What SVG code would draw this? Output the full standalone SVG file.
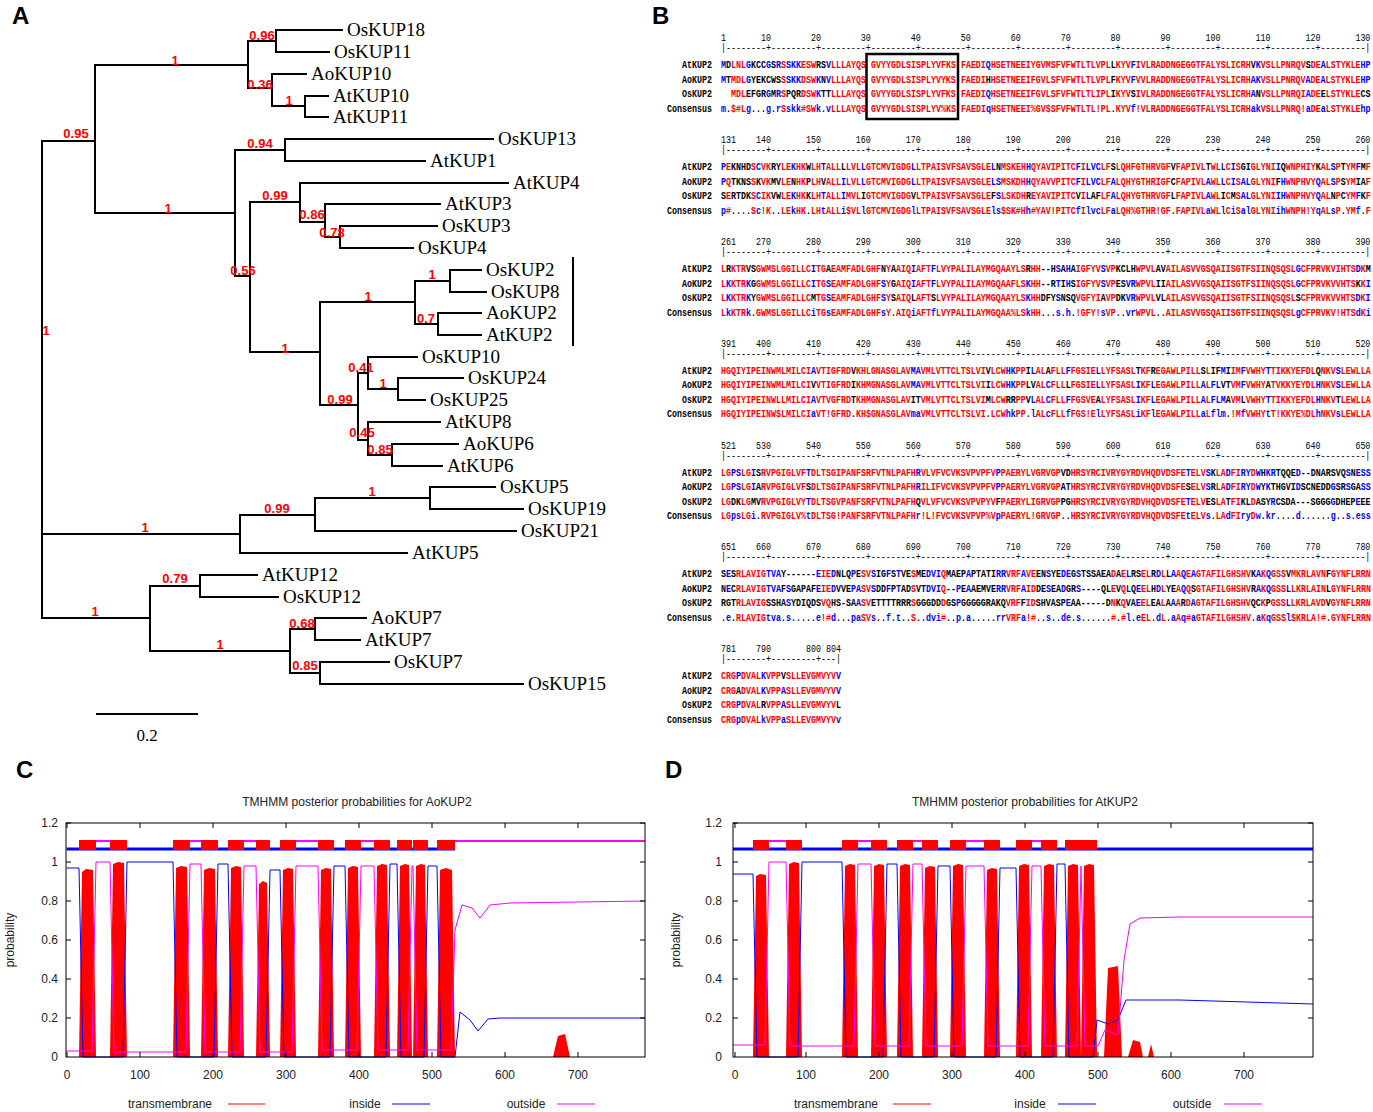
<svg xmlns="http://www.w3.org/2000/svg" width="1373" height="1112" viewBox="0 0 1373 1112">
<style>
.br{stroke:#000;stroke-width:2;fill:none;stroke-linecap:square}
.lf{font-family:"Liberation Serif",serif;font-size:19px;fill:#000}
.sp{font-family:"Liberation Sans",Arial,sans-serif;font-size:13px;font-weight:bold;fill:#f00;text-anchor:middle}
.pl{font-family:"Liberation Sans",Arial,sans-serif;font-size:24px;font-weight:bold;fill:#000}
.sq{font-family:"Liberation Mono",monospace;font-size:11.5px;font-weight:bold;fill:#000;white-space:pre}
.nm{font-weight:normal}
.lb{text-anchor:end}
.r{fill:#f00}
.b{fill:#00f}
.ax{font-family:"Liberation Sans",Arial,sans-serif;font-size:12px;fill:#222}
.axe{text-anchor:end}
.axm{text-anchor:middle}
.fr{fill:none;stroke:#000;stroke-width:1}
.tk{stroke:#000;stroke-width:1}
.tm{fill:#f00}
.inl{fill:none;stroke:#00f;stroke-width:1}
.otl{fill:none;stroke:#f0f;stroke-width:1}
.inb{stroke:#00f;stroke-width:3}
.otb{stroke:#f0f;stroke-width:2}
</style>
<rect width="1373" height="1112" fill="#fff"/>
<text class="pl" x="12" y="24">A</text>
<text class="pl" x="652" y="24">B</text>
<text class="pl" x="16" y="778">C</text>
<text class="pl" x="665" y="778">D</text>

<!-- Panel A: tree -->
<g id="tree-branches" class="br">
<path d="M42 141V618M42 141H95M42 534H240M42 618H150
M95 65V213M95 65H248M95 213H235
M248 41V88M248 41H276M248 88H272
M276 30V52M276 30H342M276 52H329
M272 74V106M272 74H306M272 106H305
M305 96V117M305 96H328M305 117H328
M235 150V276M235 150H285M235 276H250
M285 139V161M285 139H493M285 161H425
M250 202V352M250 202H300M250 352H320
M300 183V222M300 183H508M300 222H325
M325 204V237M325 204H440M325 237H340
M340 226V248M340 226H437M340 248H413
M320 302V405M320 302H415M320 405H358
M415 281V324M415 281H450M415 324H438
M450 270V292M450 270H481M450 292H486
M438 313V335M438 313H481M438 335H481
M358 373V440M358 373H368M358 440H368
M368 357V389M368 357H417M368 389H398
M398 378V400M398 378H463M398 400H425
M368 422V455M368 422H440M368 455H392
M392 444V466M392 444H458M392 466H442
M240 515V553M240 515H315M240 553H407
M315 498V531M315 498H430M315 531H516
M430 487V509M430 487H495M430 509H523
M150 586V651M150 586H200M150 651H290
M200 575V597M200 575H257M200 597H278
M290 629V673M290 629H315M290 673H320
M315 618V640M315 618H366M315 640H360
M320 662V684M320 662H389M320 684H523
M573 258V345
M97 714H197"/>
</g>
<g id="tree-leaves">
<g id="leaf-OsKUP18"><text class="lf" x="347" y="36">OsKUP18</text></g>
<g id="leaf-OsKUP11"><text class="lf" x="334" y="58">OsKUP11</text></g>
<g id="leaf-AoKUP10"><text class="lf" x="311" y="80">AoKUP10</text></g>
<g id="leaf-AtKUP10"><text class="lf" x="333" y="102">AtKUP10</text></g>
<g id="leaf-AtKUP11"><text class="lf" x="333" y="123">AtKUP11</text></g>
<g id="leaf-OsKUP13"><text class="lf" x="498" y="145">OsKUP13</text></g>
<g id="leaf-AtKUP1"><text class="lf" x="430" y="167">AtKUP1</text></g>
<g id="leaf-AtKUP4"><text class="lf" x="513" y="189">AtKUP4</text></g>
<g id="leaf-AtKUP3"><text class="lf" x="445" y="210">AtKUP3</text></g>
<g id="leaf-OsKUP3"><text class="lf" x="442" y="232">OsKUP3</text></g>
<g id="leaf-OsKUP4"><text class="lf" x="418" y="254">OsKUP4</text></g>
<g id="leaf-OsKUP2"><text class="lf" x="486" y="276">OsKUP2</text></g>
<g id="leaf-OsKUP8"><text class="lf" x="491" y="298">OsKUP8</text></g>
<g id="leaf-AoKUP2"><text class="lf" x="486" y="319">AoKUP2</text></g>
<g id="leaf-AtKUP2"><text class="lf" x="486" y="341">AtKUP2</text></g>
<g id="leaf-OsKUP10"><text class="lf" x="422" y="363">OsKUP10</text></g>
<g id="leaf-OsKUP24"><text class="lf" x="468" y="384">OsKUP24</text></g>
<g id="leaf-OsKUP25"><text class="lf" x="430" y="406">OsKUP25</text></g>
<g id="leaf-AtKUP8"><text class="lf" x="445" y="428">AtKUP8</text></g>
<g id="leaf-AoKUP6"><text class="lf" x="463" y="450">AoKUP6</text></g>
<g id="leaf-AtKUP6"><text class="lf" x="447" y="472">AtKUP6</text></g>
<g id="leaf-OsKUP5"><text class="lf" x="500" y="493">OsKUP5</text></g>
<g id="leaf-OsKUP19"><text class="lf" x="528" y="515">OsKUP19</text></g>
<g id="leaf-OsKUP21"><text class="lf" x="521" y="537">OsKUP21</text></g>
<g id="leaf-AtKUP5"><text class="lf" x="412" y="559">AtKUP5</text></g>
<g id="leaf-AtKUP12"><text class="lf" x="262" y="581">AtKUP12</text></g>
<g id="leaf-OsKUP12"><text class="lf" x="283" y="603">OsKUP12</text></g>
<g id="leaf-AoKUP7"><text class="lf" x="371" y="624">AoKUP7</text></g>
<g id="leaf-AtKUP7"><text class="lf" x="365" y="646">AtKUP7</text></g>
<g id="leaf-OsKUP7"><text class="lf" x="394" y="668">OsKUP7</text></g>
<g id="leaf-OsKUP15"><text class="lf" x="528" y="690">OsKUP15</text></g>
<text class="lf" x="147" y="741" text-anchor="middle" style="font-size:17px">0.2</text>
</g>
<g id="tree-support">
<text class="sp" x="262" y="39.5">0.96</text>
<text class="sp" x="175" y="64.5">1</text>
<text class="sp" x="260" y="88.5">0.36</text>
<text class="sp" x="289" y="104.5">1</text>
<text class="sp" x="76" y="137.5">0.95</text>
<text class="sp" x="260" y="147.5">0.94</text>
<text class="sp" x="275" y="199.5">0.99</text>
<text class="sp" x="168" y="212.5">1</text>
<text class="sp" x="312" y="218.5">0.86</text>
<text class="sp" x="332" y="236.5">0.78</text>
<text class="sp" x="243" y="274.5">0.56</text>
<text class="sp" x="432" y="278.5">1</text>
<text class="sp" x="368" y="300.5">1</text>
<text class="sp" x="426" y="322.5">0.7</text>
<text class="sp" x="46" y="334.5">1</text>
<text class="sp" x="285" y="352.5">1</text>
<text class="sp" x="361" y="371.5">0.41</text>
<text class="sp" x="383" y="387.5">1</text>
<text class="sp" x="340" y="403.5">0.99</text>
<text class="sp" x="362" y="436.5">0.45</text>
<text class="sp" x="380" y="453.5">0.85</text>
<text class="sp" x="372" y="495.5">1</text>
<text class="sp" x="277" y="512.5">0.99</text>
<text class="sp" x="145" y="531.5">1</text>
<text class="sp" x="175" y="582.5">0.79</text>
<text class="sp" x="95" y="615.5">1</text>
<text class="sp" x="302" y="627.5">0.68</text>
<text class="sp" x="220" y="648.5">1</text>
<text class="sp" x="305" y="669.5">0.85</text>
</g>

<!-- Panel B: alignment -->
<g id="alignment" class="sq" transform="translate(721 0) scale(0.7246 1)">
<text class="nm" xml:space="preserve" y="41.5">1       10        20        30        40        50        60        70        80        90       100       110       120       130</text>
<text class="nm" xml:space="preserve" y="51.5">|--------+---------+---------+---------+---------+---------+---------+---------+---------+---------+---------+---------+---------|</text>
<text class="lb" x="-12.4" y="68.5">AtKUP2</text>
<text class="lb" x="-12.4" y="83">AoKUP2</text>
<text class="lb" x="-12.4" y="97.5">OsKUP2</text>
<text class="lb" x="-12.4" y="112">Consensus</text>
<text xml:space="preserve" y="68.5"><tspan class="b">M</tspan>D<tspan class="r">LNL</tspan><tspan class="b">G</tspan>KCC<tspan class="b">G</tspan>S<tspan class="b">R</tspan><tspan class="r">S</tspan><tspan class="b">SKK</tspan><tspan class="r">ESW</tspan>RS<tspan class="b">V</tspan><tspan class="r">LLLAYQS</tspan> <tspan class="r">GVYYGDLSISPLYVFKS</tspan> <tspan class="r">FAEDI</tspan><tspan class="b">Q</tspan><tspan class="r">HSETNEEIYGVMSFVFWTLTLVPL</tspan>L<tspan class="r">KYV</tspan><tspan class="b">F</tspan><tspan class="r">IVLRADDNGEGGTFALYSLICRH</tspan>V<tspan class="b">K</tspan><tspan class="r">VSLLPNRQV</tspan>S<tspan class="r">DE</tspan><tspan class="b">A</tspan><tspan class="r">LSTYKLE</tspan><tspan class="b">HP</tspan></text>
<text xml:space="preserve" y="83"><tspan class="b">M</tspan>T<tspan class="r">MDL</tspan><tspan class="b">G</tspan>YEKCWS<tspan class="r">S</tspan><tspan class="b">SKK</tspan><tspan class="r">DSW</tspan><tspan class="b">K</tspan>N<tspan class="b">V</tspan><tspan class="r">LLLAYQS</tspan> <tspan class="r">GVYYGDLSISPLYVYKS</tspan> <tspan class="r">FAEDI</tspan>H<tspan class="r">HSETNEEIFGVLSFVFWTLTLVPL</tspan>F<tspan class="r">KYV</tspan><tspan class="b">F</tspan><tspan class="r">VVLRADDNGEGGTFALYSLICRH</tspan><tspan class="b">AK</tspan><tspan class="r">VSLLPNRQV</tspan><tspan class="b">A</tspan><tspan class="r">DE</tspan><tspan class="b">A</tspan><tspan class="r">LSTYKLE</tspan><tspan class="b">HP</tspan></text>
<text xml:space="preserve" y="97.5">  <tspan class="r">MDL</tspan>EFGR<tspan class="b">G</tspan>M<tspan class="b">R</tspan><tspan class="r">S</tspan>PQR<tspan class="r">DSW</tspan><tspan class="b">K</tspan>TT<tspan class="r">LLLAYQS</tspan> <tspan class="r">GVYYGDLSISPLYVFKS</tspan> <tspan class="r">FAEDI</tspan><tspan class="b">Q</tspan><tspan class="r">HSETNEEIFGVLSFVFWTLTLIPL</tspan>I<tspan class="r">KYV</tspan>S<tspan class="r">IVLRADDNGEGGTFALYSLICRH</tspan><tspan class="b">A</tspan>N<tspan class="r">VSLLPNRQI</tspan><tspan class="b">A</tspan><tspan class="r">DE</tspan>E<tspan class="r">LSTYKLE</tspan>CS</text>
<text xml:space="preserve" y="112"><tspan class="b">m</tspan>.<tspan class="r">$#L</tspan><tspan class="b">g</tspan>...<tspan class="b">g</tspan>.<tspan class="b">r</tspan><tspan class="r">S</tspan><tspan class="b">skk</tspan><tspan class="r">#SW</tspan><tspan class="b">k</tspan>.<tspan class="b">v</tspan><tspan class="r">LLLAYQS</tspan> <tspan class="r">GVYYGDLSISPLYV%KS</tspan> <tspan class="r">FAEDI</tspan><tspan class="b">q</tspan><tspan class="r">HSETNEEI%GV$SFVFWTLTL!PL</tspan>.<tspan class="r">KYV</tspan><tspan class="b">f</tspan><tspan class="r">!VLRADDNGEGGTFALYSLICRH</tspan><tspan class="b">ak</tspan><tspan class="r">VSLLPNRQ!</tspan><tspan class="b">a</tspan><tspan class="r">DE</tspan><tspan class="b">a</tspan><tspan class="r">LSTYKLE</tspan><tspan class="b">hp</tspan></text>

<text class="nm" xml:space="preserve" y="143.3">131    140       150       160       170       180       190       200       210       220       230       240       250       260</text>
<text class="nm" xml:space="preserve" y="153.3">|--------+---------+---------+---------+---------+---------+---------+---------+---------+---------+---------+---------+---------|</text>
<text class="lb" x="-12.4" y="170.3">AtKUP2</text>
<text class="lb" x="-12.4" y="184.8">AoKUP2</text>
<text class="lb" x="-12.4" y="199.3">OsKUP2</text>
<text class="lb" x="-12.4" y="213.8">Consensus</text>
<text xml:space="preserve" y="170.3"><tspan class="b">P</tspan><tspan class="r">E</tspan>KNHD<tspan class="r">S</tspan><tspan class="b">C</tspan><tspan class="r">VK</tspan>RY<tspan class="r">LE</tspan><tspan class="b">K</tspan><tspan class="r">HK</tspan>W<tspan class="r">LH</tspan><tspan class="b">T</tspan><tspan class="r">ALL</tspan>L<tspan class="r">LVL</tspan><tspan class="b">L</tspan><tspan class="r">GTCMVIGDG</tspan><tspan class="b">L</tspan><tspan class="r">LTPAISVFSAVSGLE</tspan><tspan class="b">L</tspan>N<tspan class="r">MSKEH</tspan><tspan class="b">H</tspan><tspan class="r">QYAVIPITC</tspan><tspan class="b">F</tspan><tspan class="r">I</tspan><tspan class="b">LVC</tspan><tspan class="r">LF</tspan>S<tspan class="r">LQHFGTHRVGF</tspan>V<tspan class="r">FAPIVL</tspan>T<tspan class="r">WL</tspan><tspan class="b">L</tspan><tspan class="r">C</tspan><tspan class="b">I</tspan><tspan class="r">S</tspan>GI<tspan class="r">GLYNI</tspan><tspan class="b">I</tspan>Q<tspan class="r">WNPHIY</tspan>K<tspan class="r">AL</tspan><tspan class="b">S</tspan><tspan class="r">P</tspan>T<tspan class="r">YM</tspan><tspan class="b">F</tspan>M<tspan class="r">F</tspan></text>
<text xml:space="preserve" y="184.8"><tspan class="b">P</tspan><tspan class="r">Q</tspan>TKNS<tspan class="r">S</tspan>K<tspan class="r">VK</tspan>MV<tspan class="r">LE</tspan>N<tspan class="r">HK</tspan>P<tspan class="r">LH</tspan>V<tspan class="r">ALL</tspan><tspan class="b">I</tspan><tspan class="r">LVL</tspan><tspan class="b">L</tspan><tspan class="r">GTCMVIGDG</tspan><tspan class="b">L</tspan><tspan class="r">LTPAISVFSAVSGLE</tspan><tspan class="b">LS</tspan><tspan class="r">MSKDH</tspan><tspan class="b">H</tspan><tspan class="r">QYAVVPITC</tspan><tspan class="b">F</tspan><tspan class="r">I</tspan><tspan class="b">LVC</tspan><tspan class="r">LF</tspan><tspan class="b">A</tspan><tspan class="r">LQHYGTHRIGF</tspan>C<tspan class="r">FAPIVL</tspan><tspan class="b">A</tspan><tspan class="r">WL</tspan><tspan class="b">L</tspan><tspan class="r">C</tspan><tspan class="b">I</tspan><tspan class="r">S</tspan><tspan class="b">AL</tspan><tspan class="r">GLYNI</tspan>F<tspan class="b">H</tspan><tspan class="r">WNPHVY</tspan><tspan class="b">Q</tspan><tspan class="r">AL</tspan><tspan class="b">S</tspan><tspan class="r">P</tspan>S<tspan class="r">YM</tspan>IA<tspan class="r">F</tspan></text>
<text xml:space="preserve" y="199.3">S<tspan class="r">E</tspan>RTDK<tspan class="r">S</tspan><tspan class="b">C</tspan><tspan class="r">IK</tspan>VW<tspan class="r">LE</tspan><tspan class="b">K</tspan><tspan class="r">HK</tspan>K<tspan class="r">LH</tspan><tspan class="b">T</tspan><tspan class="r">ALL</tspan><tspan class="b">I</tspan><tspan class="r">MVL</tspan>I<tspan class="r">GTCMVIGDG</tspan>V<tspan class="r">LTPAISVFSAVSGLE</tspan>F<tspan class="b">S</tspan><tspan class="r">LSKDH</tspan>R<tspan class="r">EYAVIPITC</tspan>V<tspan class="r">I</tspan><tspan class="b">L</tspan>AF<tspan class="r">LF</tspan><tspan class="b">A</tspan><tspan class="r">LQHYGTHRVGF</tspan>L<tspan class="r">FAPIVL</tspan><tspan class="b">A</tspan><tspan class="r">WL</tspan>I<tspan class="r">C</tspan>M<tspan class="r">S</tspan><tspan class="b">AL</tspan><tspan class="r">GLYNI</tspan><tspan class="b">IH</tspan><tspan class="r">WNPHVY</tspan><tspan class="b">Q</tspan><tspan class="r">AL</tspan>N<tspan class="r">P</tspan>C<tspan class="r">YM</tspan><tspan class="b">F</tspan>K<tspan class="r">F</tspan></text>
<text xml:space="preserve" y="213.8"><tspan class="b">p</tspan><tspan class="r">#</tspan>....<tspan class="r">S</tspan><tspan class="b">c</tspan><tspan class="r">!K</tspan>..<tspan class="r">LE</tspan><tspan class="b">k</tspan><tspan class="r">HK</tspan>.<tspan class="r">LH</tspan><tspan class="b">t</tspan><tspan class="r">ALL</tspan><tspan class="b">i</tspan><tspan class="r">$VL</tspan><tspan class="b">l</tspan><tspan class="r">GTCMVIGDG</tspan><tspan class="b">l</tspan><tspan class="r">LTPAISVFSAVSGLE</tspan><tspan class="b">ls</tspan><tspan class="r">$SK#H</tspan><tspan class="b">h</tspan><tspan class="r">#YAV!PITC</tspan><tspan class="b">f</tspan><tspan class="r">I</tspan><tspan class="b">lvc</tspan><tspan class="r">LF</tspan><tspan class="b">a</tspan><tspan class="r">LQH%GTHR!GF</tspan>.<tspan class="r">FAPIVL</tspan><tspan class="b">a</tspan><tspan class="r">WL</tspan><tspan class="b">l</tspan><tspan class="r">C</tspan><tspan class="b">i</tspan><tspan class="r">S</tspan><tspan class="b">al</tspan><tspan class="r">GLYNI</tspan><tspan class="b">ih</tspan><tspan class="r">WNPH!Y</tspan><tspan class="b">q</tspan><tspan class="r">AL</tspan><tspan class="b">s</tspan><tspan class="r">P</tspan>.<tspan class="r">YM</tspan><tspan class="b">f</tspan>.<tspan class="r">F</tspan></text>

<text class="nm" xml:space="preserve" y="245.1">261    270       280       290       300       310       320       330       340       350       360       370       380       390</text>
<text class="nm" xml:space="preserve" y="255.1">|--------+---------+---------+---------+---------+---------+---------+---------+---------+---------+---------+---------+---------|</text>
<text class="lb" x="-12.4" y="272.1">AtKUP2</text>
<text class="lb" x="-12.4" y="286.6">AoKUP2</text>
<text class="lb" x="-12.4" y="301.1">OsKUP2</text>
<text class="lb" x="-12.4" y="315.6">Consensus</text>
<text xml:space="preserve" y="272.1"><tspan class="r">L</tspan>R<tspan class="r">KTR</tspan>VS<tspan class="r">GWMSLGGILLC</tspan><tspan class="b">I</tspan><tspan class="r">TG</tspan>A<tspan class="r">EAMFADLGHF</tspan>N<tspan class="r">Y</tspan>A<tspan class="r">AIQ</tspan><tspan class="b">I</tspan><tspan class="r">AFT</tspan><tspan class="b">F</tspan><tspan class="r">LVYPALILAYMGQAAYLS</tspan>R<tspan class="r">HH</tspan>--H<tspan class="b">S</tspan>A<tspan class="b">H</tspan>A<tspan class="r">IGFYV</tspan><tspan class="b">S</tspan><tspan class="r">VP</tspan>KCLH<tspan class="r">WPVL</tspan>AV<tspan class="r">AILASVVGSQAIISGTFSIINQSQSL</tspan><tspan class="b">G</tspan><tspan class="r">CFPRVKVIHTS</tspan><tspan class="b">D</tspan><tspan class="r">K</tspan>M</text>
<text xml:space="preserve" y="286.6"><tspan class="r">L</tspan><tspan class="b">K</tspan><tspan class="r">KTR</tspan><tspan class="b">K</tspan>G<tspan class="r">GWMSLGGILLC</tspan><tspan class="b">I</tspan><tspan class="r">TG</tspan><tspan class="b">S</tspan><tspan class="r">EAMFADLGHF</tspan><tspan class="b">S</tspan><tspan class="r">Y</tspan>G<tspan class="r">AIQ</tspan><tspan class="b">I</tspan><tspan class="r">AFT</tspan><tspan class="b">F</tspan><tspan class="r">LVYPALILAYMGQAAFLS</tspan><tspan class="b">K</tspan><tspan class="r">HH</tspan>--R<tspan class="b">T</tspan>I<tspan class="b">H</tspan>S<tspan class="r">IGFYV</tspan><tspan class="b">S</tspan><tspan class="r">VP</tspan>ES<tspan class="b">VR</tspan><tspan class="r">WPVL</tspan>II<tspan class="r">AILASVVGSQAIISGTFSIINQSQSL</tspan><tspan class="b">G</tspan><tspan class="r">CFPRVKVVHTS</tspan>K<tspan class="r">K</tspan><tspan class="b">I</tspan></text>
<text xml:space="preserve" y="301.1"><tspan class="r">L</tspan><tspan class="b">K</tspan><tspan class="r">KTR</tspan><tspan class="b">K</tspan>Y<tspan class="r">GWMSLGGILLC</tspan>M<tspan class="r">TG</tspan><tspan class="b">S</tspan><tspan class="r">EAMFADLGHF</tspan><tspan class="b">S</tspan><tspan class="r">Y</tspan>S<tspan class="r">AIQ</tspan>L<tspan class="r">AFT</tspan>S<tspan class="r">LVYPALILAYMGQAAYLS</tspan><tspan class="b">K</tspan><tspan class="r">HH</tspan>DFY<tspan class="b">S</tspan>NSQ<tspan class="r">VGFYI</tspan>A<tspan class="r">VP</tspan>DK<tspan class="b">VR</tspan><tspan class="r">WPVL</tspan>VL<tspan class="r">AILASVVGSQAIISGTFSIINQSQSL</tspan>S<tspan class="r">CFPRVKVVHTS</tspan><tspan class="b">D</tspan><tspan class="r">K</tspan><tspan class="b">I</tspan></text>
<text xml:space="preserve" y="315.6"><tspan class="r">L</tspan><tspan class="b">k</tspan><tspan class="r">KTR</tspan><tspan class="b">k</tspan>.<tspan class="r">GWMSLGGILLC</tspan><tspan class="b">i</tspan><tspan class="r">TG</tspan><tspan class="b">s</tspan><tspan class="r">EAMFADLGHF</tspan><tspan class="b">s</tspan><tspan class="r">Y</tspan>.<tspan class="r">AIQ</tspan><tspan class="b">i</tspan><tspan class="r">AFT</tspan><tspan class="b">f</tspan><tspan class="r">LVYPALILAYMGQAA%LS</tspan><tspan class="b">k</tspan><tspan class="r">HH</tspan>...<tspan class="b">s</tspan>.<tspan class="b">h</tspan>.<tspan class="r">!GFY!</tspan><tspan class="b">s</tspan><tspan class="r">VP</tspan>..<tspan class="b">vr</tspan><tspan class="r">WPVL</tspan>..<tspan class="r">AILASVVGSQAIISGTFSIINQSQSL</tspan><tspan class="b">g</tspan><tspan class="r">CFPRVKV!HTS</tspan><tspan class="b">d</tspan><tspan class="r">K</tspan><tspan class="b">i</tspan></text>

<text class="nm" xml:space="preserve" y="346.9">391    400       410       420       430       440       450       460       470       480       490       500       510       520</text>
<text class="nm" xml:space="preserve" y="356.9">|--------+---------+---------+---------+---------+---------+---------+---------+---------+---------+---------+---------+---------|</text>
<text class="lb" x="-12.4" y="373.9">AtKUP2</text>
<text class="lb" x="-12.4" y="388.4">AoKUP2</text>
<text class="lb" x="-12.4" y="402.9">OsKUP2</text>
<text class="lb" x="-12.4" y="417.4">Consensus</text>
<text xml:space="preserve" y="373.9"><tspan class="r">HGQIYIPEINWMLMILCI</tspan><tspan class="b">A</tspan><tspan class="r">VTIGFRD</tspan>V<tspan class="r">KHLGNASGLAV</tspan><tspan class="b">MA</tspan><tspan class="r">VMLVTTCLTSLVI</tspan>V<tspan class="r">LCW</tspan><tspan class="b">HK</tspan><tspan class="r">PP</tspan>I<tspan class="b">L</tspan><tspan class="r">AL</tspan>A<tspan class="r">FLL</tspan><tspan class="b">F</tspan><tspan class="r">FGSIE</tspan><tspan class="b">L</tspan><tspan class="r">LYFSASL</tspan>T<tspan class="r">KF</tspan>R<tspan class="r">EGAWLPILL</tspan>S<tspan class="r">L</tspan>IF<tspan class="b">M</tspan>I<tspan class="r">IM</tspan><tspan class="b">F</tspan><tspan class="r">VWHY</tspan><tspan class="b">T</tspan><tspan class="r">TIKKYEFDL</tspan>Q<tspan class="r">NKV</tspan><tspan class="b">S</tspan><tspan class="r">LEWLLA</tspan></text>
<text xml:space="preserve" y="388.4"><tspan class="r">HGQIYIPEINWMLMILCI</tspan>V<tspan class="r">VTIGFRD</tspan>I<tspan class="r">KHMGNASGLAV</tspan><tspan class="b">MA</tspan><tspan class="r">VMLVTTCLTSLVI</tspan>I<tspan class="r">LCW</tspan><tspan class="b">HK</tspan><tspan class="r">PP</tspan>LV<tspan class="r">AL</tspan><tspan class="b">C</tspan><tspan class="r">FLL</tspan>L<tspan class="r">FGSIE</tspan><tspan class="b">L</tspan><tspan class="r">LYFSASL</tspan><tspan class="b">I</tspan><tspan class="r">KF</tspan><tspan class="b">L</tspan><tspan class="r">EGAWLPILL</tspan><tspan class="b">A</tspan><tspan class="r">L</tspan><tspan class="b">FL</tspan>VT<tspan class="r">VM</tspan><tspan class="b">F</tspan><tspan class="r">VWHY</tspan>A<tspan class="r">TVKKYEYDL</tspan><tspan class="b">H</tspan><tspan class="r">NKV</tspan><tspan class="b">S</tspan><tspan class="r">LEWLLA</tspan></text>
<text xml:space="preserve" y="402.9"><tspan class="r">HGQIYIPEINWLLMILCI</tspan><tspan class="b">A</tspan><tspan class="r">VTVGFRD</tspan>T<tspan class="r">KHMGNASGLAV</tspan>IT<tspan class="r">VMLVTTCLTSLVI</tspan>M<tspan class="r">LCW</tspan>RR<tspan class="r">PP</tspan>V<tspan class="b">L</tspan><tspan class="r">AL</tspan><tspan class="b">C</tspan><tspan class="r">FLL</tspan><tspan class="b">F</tspan><tspan class="r">FGSVE</tspan>A<tspan class="r">LYFSASL</tspan><tspan class="b">I</tspan><tspan class="r">KF</tspan><tspan class="b">L</tspan><tspan class="r">EGAWLPILL</tspan><tspan class="b">A</tspan><tspan class="r">L</tspan><tspan class="b">FLM</tspan>A<tspan class="r">VM</tspan>L<tspan class="r">VWHY</tspan><tspan class="b">T</tspan><tspan class="r">TIKKYEFDL</tspan><tspan class="b">H</tspan><tspan class="r">NKV</tspan>T<tspan class="r">LEWLLA</tspan></text>
<text xml:space="preserve" y="417.4"><tspan class="r">HGQIYIPEINW$LMILCI</tspan><tspan class="b">a</tspan><tspan class="r">VT!GFRD</tspan>.<tspan class="r">KH$GNASGLAV</tspan><tspan class="b">ma</tspan><tspan class="r">VMLVTTCLTSLVI</tspan>.<tspan class="r">LCW</tspan><tspan class="b">hk</tspan><tspan class="r">PP</tspan>.<tspan class="b">l</tspan><tspan class="r">AL</tspan><tspan class="b">c</tspan><tspan class="r">FLL</tspan><tspan class="b">f</tspan><tspan class="r">FGS!E</tspan><tspan class="b">l</tspan><tspan class="r">LYFSASL</tspan><tspan class="b">i</tspan><tspan class="r">KF</tspan><tspan class="b">l</tspan><tspan class="r">EGAWLPILL</tspan><tspan class="b">a</tspan><tspan class="r">L</tspan><tspan class="b">flm</tspan>.<tspan class="r">!M</tspan><tspan class="b">f</tspan><tspan class="r">VWHY</tspan><tspan class="b">t</tspan><tspan class="r">T!KKYE%DL</tspan><tspan class="b">h</tspan><tspan class="r">NKV</tspan><tspan class="b">s</tspan><tspan class="r">LEWLLA</tspan></text>

<text class="nm" xml:space="preserve" y="448.7">521    530       540       550       560       570       580       590       600       610       620       630       640       650</text>
<text class="nm" xml:space="preserve" y="458.7">|--------+---------+---------+---------+---------+---------+---------+---------+---------+---------+---------+---------+---------|</text>
<text class="lb" x="-12.4" y="475.7">AtKUP2</text>
<text class="lb" x="-12.4" y="490.2">AoKUP2</text>
<text class="lb" x="-12.4" y="504.7">OsKUP2</text>
<text class="lb" x="-12.4" y="519.2">Consensus</text>
<text xml:space="preserve" y="475.7"><tspan class="r">LG</tspan><tspan class="b">PS</tspan><tspan class="r">LG</tspan><tspan class="b">I</tspan>S<tspan class="r">RVPGIGLVF</tspan><tspan class="b">T</tspan><tspan class="r">DLTSGIPANFSRFVTNLPAFH</tspan><tspan class="b">R</tspan><tspan class="r">VLVFVCVKSVPVPFV</tspan><tspan class="b">P</tspan><tspan class="r">PAERYLVGRVGP</tspan>VD<tspan class="r">HRSYRCIVRYGYRDVHQDVDSFE</tspan><tspan class="b">T</tspan><tspan class="r">ELV</tspan><tspan class="b">S</tspan>K<tspan class="r">LA</tspan><tspan class="b">D</tspan><tspan class="r">FI</tspan><tspan class="b">RY</tspan><tspan class="r">D</tspan><tspan class="b">W</tspan>H<tspan class="b">KR</tspan>TQQE<tspan class="b">D</tspan>--DNARSVQ<tspan class="b">S</tspan>N<tspan class="b">ESS</tspan></text>
<text xml:space="preserve" y="490.2"><tspan class="r">LG</tspan><tspan class="b">PS</tspan><tspan class="r">LG</tspan><tspan class="b">I</tspan>A<tspan class="r">RVPGIGLVF</tspan>S<tspan class="r">DLTSGIPANFSRFVTNLPAFH</tspan><tspan class="b">R</tspan><tspan class="r">ILIFVCVKSVPVPFV</tspan><tspan class="b">P</tspan><tspan class="r">PAERYLVGRVGP</tspan>AT<tspan class="r">HRSYRCIVRYGYRDVHQDVDSFE</tspan>S<tspan class="r">ELV</tspan><tspan class="b">S</tspan>R<tspan class="r">LA</tspan><tspan class="b">D</tspan><tspan class="r">FI</tspan><tspan class="b">RY</tspan><tspan class="r">D</tspan><tspan class="b">W</tspan>Y<tspan class="b">K</tspan>THGVI<tspan class="b">D</tspan>SCNEDD<tspan class="b">G</tspan>SR<tspan class="b">S</tspan>GA<tspan class="b">SS</tspan></text>
<text xml:space="preserve" y="504.7"><tspan class="r">LG</tspan>DK<tspan class="r">LG</tspan>MV<tspan class="r">RVPGIGLVY</tspan><tspan class="b">T</tspan><tspan class="r">DLTSGVPANFSRFVTNLPAFH</tspan>Q<tspan class="r">VLVFVCVKSVPVPYV</tspan>F<tspan class="r">PAERYLIGRVGP</tspan>PG<tspan class="r">HRSYRCIVRYGYRDVHQDVDSFE</tspan><tspan class="b">T</tspan><tspan class="r">ELV</tspan>ES<tspan class="r">LA</tspan>T<tspan class="r">FI</tspan>KL<tspan class="r">D</tspan>ASY<tspan class="b">R</tspan>CSDA---SGGG<tspan class="b">G</tspan>DHEP<tspan class="b">E</tspan>EE</text>
<text xml:space="preserve" y="519.2"><tspan class="r">LG</tspan><tspan class="b">ps</tspan><tspan class="r">LG</tspan><tspan class="b">i</tspan>.<tspan class="r">RVPGIGLV%</tspan><tspan class="b">t</tspan><tspan class="r">DLTSG!PANFSRFVTNLPAFH</tspan><tspan class="b">r</tspan><tspan class="r">!L!FVCVKSVPVP%V</tspan><tspan class="b">p</tspan><tspan class="r">PAERYL!GRVGP</tspan>..<tspan class="r">HRSYRCIVRYGYRDVHQDVDSFE</tspan><tspan class="b">t</tspan><tspan class="r">ELV</tspan><tspan class="b">s</tspan>.<tspan class="r">LA</tspan><tspan class="b">d</tspan><tspan class="r">FI</tspan><tspan class="b">ry</tspan><tspan class="r">D</tspan><tspan class="b">w</tspan>.<tspan class="b">kr</tspan>....<tspan class="b">d</tspan>......<tspan class="b">g</tspan>..<tspan class="b">s</tspan>.<tspan class="b">ess</tspan></text>

<text class="nm" xml:space="preserve" y="550.5">651    660       670       680       690       700       710       720       730       740       750       760       770       780</text>
<text class="nm" xml:space="preserve" y="560.5">|--------+---------+---------+---------+---------+---------+---------+---------+---------+---------+---------+---------+---------|</text>
<text class="lb" x="-12.4" y="577.5">AtKUP2</text>
<text class="lb" x="-12.4" y="592">AoKUP2</text>
<text class="lb" x="-12.4" y="606.5">OsKUP2</text>
<text class="lb" x="-12.4" y="621">Consensus</text>
<text xml:space="preserve" y="577.5">S<tspan class="b">E</tspan>S<tspan class="r">RLAVIG</tspan><tspan class="b">TVA</tspan>Y------<tspan class="b">E</tspan><tspan class="r">IE</tspan><tspan class="b">D</tspan>NLQ<tspan class="b">P</tspan>E<tspan class="r">SV</tspan><tspan class="b">S</tspan>IG<tspan class="b">F</tspan>S<tspan class="b">T</tspan>VE<tspan class="r">S</tspan>ME<tspan class="b">DVI</tspan><tspan class="r">Q</tspan>MAEP<tspan class="b">A</tspan>PTATI<tspan class="b">RR</tspan><tspan class="r">VRF</tspan><tspan class="b">A</tspan><tspan class="r">VE</tspan>EN<tspan class="b">S</tspan>YE<tspan class="b">DE</tspan>G<tspan class="b">S</tspan>TSSAEA<tspan class="r">D</tspan>A<tspan class="r">E</tspan><tspan class="b">L</tspan>RS<tspan class="r">EL</tspan>R<tspan class="b">D</tspan><tspan class="r">L</tspan>L<tspan class="b">A</tspan><tspan class="r">A</tspan><tspan class="b">Q</tspan><tspan class="r">E</tspan><tspan class="b">A</tspan><tspan class="r">GTAFILGHSHV</tspan>K<tspan class="b">A</tspan><tspan class="r">K</tspan><tspan class="b">Q</tspan><tspan class="r">GSS</tspan>V<tspan class="r">MKRLAVN</tspan>F<tspan class="r">GYNFLRRN</tspan></text>
<text xml:space="preserve" y="592">N<tspan class="b">E</tspan>C<tspan class="r">RLAVIG</tspan><tspan class="b">TVA</tspan>F<tspan class="b">S</tspan>GAPAF<tspan class="b">E</tspan><tspan class="r">IE</tspan><tspan class="b">D</tspan>VVE<tspan class="b">PA</tspan><tspan class="r">SV</tspan><tspan class="b">S</tspan>DD<tspan class="b">F</tspan>P<tspan class="b">T</tspan>AD<tspan class="r">S</tspan>VT<tspan class="b">DVI</tspan><tspan class="r">Q</tspan>--<tspan class="b">P</tspan>E<tspan class="b">A</tspan>AEMVE<tspan class="b">RR</tspan><tspan class="r">VRF</tspan><tspan class="b">A</tspan><tspan class="r">ID</tspan>DE<tspan class="b">S</tspan>EA<tspan class="b">D</tspan>GR<tspan class="b">S</tspan>----QL<tspan class="r">E</tspan>V<tspan class="r">Q</tspan><tspan class="b">L</tspan>Q<tspan class="b">E</tspan><tspan class="r">EL</tspan>H<tspan class="b">D</tspan><tspan class="r">L</tspan>YE<tspan class="r">A</tspan><tspan class="b">Q</tspan><tspan class="r">Q</tspan>S<tspan class="r">GTAFILGHSHV</tspan>R<tspan class="b">A</tspan><tspan class="r">K</tspan><tspan class="b">Q</tspan><tspan class="r">GSS</tspan><tspan class="b">L</tspan><tspan class="r">LKRLAIN</tspan>L<tspan class="r">GYNFLRRN</tspan></text>
<text xml:space="preserve" y="606.5">RGT<tspan class="r">RLAVIG</tspan>SSHA<tspan class="b">S</tspan>YDIQDS<tspan class="r">VQ</tspan>HS-SA<tspan class="b">A</tspan><tspan class="r">SV</tspan>ETTTTRRR<tspan class="r">S</tspan>GGGDD<tspan class="r">D</tspan>GS<tspan class="b">P</tspan>GGGGGRAKQ<tspan class="r">VRF</tspan>F<tspan class="r">ID</tspan>SHVASP<tspan class="b">E</tspan>AA-----D<tspan class="r">N</tspan>K<tspan class="r">Q</tspan>VA<tspan class="b">E</tspan><tspan class="r">EL</tspan>EA<tspan class="r">L</tspan>A<tspan class="b">A</tspan><tspan class="r">A</tspan>R<tspan class="r">D</tspan><tspan class="b">A</tspan><tspan class="r">GTAFILGHSHV</tspan>QC<tspan class="r">K</tspan>P<tspan class="r">GSS</tspan><tspan class="b">L</tspan><tspan class="r">LKRLAVD</tspan>V<tspan class="r">GYNFLRRN</tspan></text>
<text xml:space="preserve" y="621">.<tspan class="b">e</tspan>.<tspan class="r">RLAVIG</tspan><tspan class="b">tva</tspan>.<tspan class="b">s</tspan>.....<tspan class="b">e</tspan><tspan class="r">!#</tspan><tspan class="b">d</tspan>...<tspan class="b">pa</tspan><tspan class="r">SV</tspan><tspan class="b">s</tspan>..<tspan class="b">f</tspan>.<tspan class="b">t</tspan>..<tspan class="r">S</tspan>..<tspan class="b">dvi</tspan><tspan class="r">#</tspan>..<tspan class="b">p</tspan>.<tspan class="b">a</tspan>.....<tspan class="b">rr</tspan><tspan class="r">VRF</tspan><tspan class="b">a</tspan><tspan class="r">!#</tspan>..<tspan class="b">s</tspan>..<tspan class="b">de</tspan>.<tspan class="b">s</tspan>......<tspan class="r">#</tspan>.<tspan class="r">#</tspan><tspan class="b">l</tspan>.<tspan class="b">e</tspan><tspan class="r">EL</tspan>.<tspan class="b">d</tspan><tspan class="r">L</tspan>.<tspan class="b">a</tspan><tspan class="r">A</tspan><tspan class="b">q</tspan><tspan class="r">#</tspan><tspan class="b">a</tspan><tspan class="r">GTAFILGHSHV</tspan>.<tspan class="b">a</tspan><tspan class="r">K</tspan><tspan class="b">q</tspan><tspan class="r">GSS</tspan><tspan class="b">l</tspan><tspan class="r">$KRLA!#</tspan>.<tspan class="r">GYNFLRRN</tspan></text>

<text class="nm" xml:space="preserve" y="652.3">781    790       800 804</text>
<text class="nm" xml:space="preserve" y="662.3">|--------+---------+---|</text>
<text class="lb" x="-12.4" y="679.3">AtKUP2</text>
<text class="lb" x="-12.4" y="693.8">AoKUP2</text>
<text class="lb" x="-12.4" y="708.3">OsKUP2</text>
<text class="lb" x="-12.4" y="722.8">Consensus</text>
<text xml:space="preserve" y="679.3"><tspan class="r">CRG</tspan><tspan class="b">P</tspan><tspan class="r">DVAL</tspan><tspan class="b">K</tspan><tspan class="r">VPP</tspan>V<tspan class="r">SLLEVGMVYV</tspan><tspan class="b">V</tspan></text>
<text xml:space="preserve" y="693.8"><tspan class="r">CRG</tspan>A<tspan class="r">DVAL</tspan><tspan class="b">K</tspan><tspan class="r">VPP</tspan><tspan class="b">A</tspan><tspan class="r">SLLEVGMVYV</tspan><tspan class="b">V</tspan></text>
<text xml:space="preserve" y="708.3"><tspan class="r">CRG</tspan><tspan class="b">P</tspan><tspan class="r">DVAL</tspan>R<tspan class="r">VPP</tspan><tspan class="b">A</tspan><tspan class="r">SLLEVGMVYV</tspan>L</text>
<text xml:space="preserve" y="722.8"><tspan class="r">CRG</tspan><tspan class="b">p</tspan><tspan class="r">DVAL</tspan><tspan class="b">k</tspan><tspan class="r">VPP</tspan><tspan class="b">a</tspan><tspan class="r">SLLEVGMVYV</tspan><tspan class="b">v</tspan></text>
</g>
<rect id="motif-box" x="866.5" y="54" width="91.5" height="65" fill="none" stroke="#000" stroke-width="2.5"/>

<!-- Panel C -->
<g id="panelC">
<text class="ax axm" x="357" y="806">TMHMM posterior probabilities for AoKUP2</text>
<path class="tm" d="M79 1057L82 872L86 869L93 870L96 1057ZM110 1057L113 864L118 862L124 863L127 1057ZM173 1057L176 868L181 866L187 867L190 1057ZM201 1057L204 870L209 868L215 869L218 1057ZM228 1057L231 868L236 866L241 867L244 1057ZM256 1057L259 884L263 881L267 883L270 1057ZM280 1057L283 870L288 868L293 869L296 1057ZM318 1057L321 870L326 868L331 869L334 1057ZM345 1057L348 868L353 866L358 867L361 1057ZM374 1057L377 866L382 864L387 865L390 1057ZM397 1057L400 866L405 864L409 865L412 1057ZM413 1057L416 866L421 864L425 865L428 1057ZM437 1057L440 870L446 868L452 870L455 1057ZM553 1057L558 1036L565 1034L570 1057Z"/>
<polyline class="inl" points="66.5,868 79,868 83,1057 123,1057 127,862 173,862 177,1057 214,1057 218,864 228,864 232,1057 266,1057 270,870 280,870 284,1057 330,1057 334,866 345,866 349,1057 386,1057 390,864 397,864 401,1057 424,1057 428,866 437,866 441,1057 455,1057 460,1012 470,1020 478,1031 488,1019 500,1018 645,1018"/>
<polyline class="otl" points="66.5,1051 92,1051 96,862 110,862 114,1052 186,1052 190,864 201,864 205,1052 240,1052 244,866 256,866 260,1052 292,1052 296,866 318,866 322,1050 357,1050 361,866 374,866 378,1050 408,1050 412,866 413,866 417,1050 451,1050 455,930 462,905 472,908 480,918 490,905 510,903 645,901"/>
<path class="inb" d="M66.5 849H455"/>
<path class="otb" d="M96 841H110M190 841H201M244 841H256M296 841H318M361 841H374M455 841H645"/>
<path class="tm" d="M79 840h17v10h-17zM110 840h17v10h-17zM173 840h17v10h-17zM201 840h17v10h-17zM228 840h16v10h-16zM256 840h14v10h-14zM280 840h16v10h-16zM318 840h16v10h-16zM345 840h16v10h-16zM374 840h16v10h-16zM397 840h15v10h-15zM413 840h15v10h-15zM437 840h18v10h-18z"/>
<rect class="fr" x="66" y="823" width="579" height="234"/>
<path class="tk" d="M67 1057v-5M140 1057v-5M213 1057v-5M286 1057v-5M359 1057v-5M432 1057v-5M505 1057v-5M578 1057v-5M67 823v5M140 823v5M213 823v5M286 823v5M359 823v5M432 823v5M505 823v5M578 823v5M66 823h5M66 862h5M66 901h5M66 940h5M66 979h5M66 1018h5M645 823h-5M645 862h-5M645 901h-5M645 940h-5M645 979h-5M645 1018h-5"/>
<text class="ax axe" x="58" y="827">1.2</text>
<text class="ax axe" x="58" y="866">1</text>
<text class="ax axe" x="58" y="905">0.8</text>
<text class="ax axe" x="58" y="944">0.6</text>
<text class="ax axe" x="58" y="983">0.4</text>
<text class="ax axe" x="58" y="1022">0.2</text>
<text class="ax axe" x="58" y="1061">0</text>
<text class="ax axm" x="67" y="1079">0</text>
<text class="ax axm" x="140" y="1079">100</text>
<text class="ax axm" x="213" y="1079">200</text>
<text class="ax axm" x="286" y="1079">300</text>
<text class="ax axm" x="359" y="1079">400</text>
<text class="ax axm" x="432" y="1079">500</text>
<text class="ax axm" x="505" y="1079">600</text>
<text class="ax axm" x="578" y="1079">700</text>
<text class="ax axm" transform="translate(14 940) rotate(-90)">probability</text>
<text class="ax axm" x="170" y="1108">transmembrane</text>
<path d="M228 1104H265" stroke="#f00" stroke-width="1"/>
<text class="ax axm" x="365" y="1108">inside</text>
<path d="M392 1104H430" stroke="#00f" stroke-width="1"/>
<text class="ax axm" x="526" y="1108">outside</text>
<path d="M557 1104H595" stroke="#f0f" stroke-width="1"/>
</g>

<!-- Panel D -->
<g id="panelD">
<text class="ax axm" x="1025" y="806">TMHMM posterior probabilities for AtKUP2</text>
<path class="tm" d="M753 1057L756 876L760 874L766 875L769 1057ZM786 1057L789 864L794 862L799 863L802 1057ZM842 1057L845 866L850 864L855 865L858 1057ZM871 1057L874 866L879 864L884 865L887 1057ZM897 1057L900 866L905 864L910 865L913 1057ZM922 1057L925 868L930 866L935 867L938 1057ZM950 1057L953 866L958 864L963 865L966 1057ZM984 1057L987 870L992 868L997 869L1000 1057ZM1016 1057L1019 866L1024 864L1029 865L1032 1057ZM1041 1057L1044 866L1049 864L1054 865L1057 1057ZM1065 1057L1068 866L1073 864L1078 865L1081 1057ZM1081 1057L1084 866L1089 864L1094 865L1097 1057ZM1104 1057L1108 968L1118 966L1122 1057ZM1128 1057L1133 1040L1140 1042L1143 1057ZM1148 1057L1151 1044L1154 1057Z"/>
<polyline class="inl" points="733,874 753,874 757,1057 798,1057 802,862 842,862 846,1057 883,1057 887,864 897,864 901,1057 934,1057 938,866 950,866 954,1057 996,1057 1000,868 1016,868 1020,1057 1053,1057 1057,864 1065,864 1069,1057 1093,1057 1097,1020 1108,1024 1118,1020 1126,1000 1135,1000 1180,1000 1313,1004"/>
<polyline class="otl" points="733,1045 765,1045 769,862 786,862 790,1046 854,1046 858,864 871,864 875,1046 909,1046 913,864 922,864 926,1046 962,1046 966,866 984,866 988,1046 1028,1046 1032,866 1041,866 1045,1046 1077,1046 1081,866 1085,1046 1098,1046 1105,1030 1118,1035 1124,960 1130,924 1140,918 1180,917 1313,917"/>
<path class="inb" d="M733 849H1313"/>
<path class="otb" d="M769 841H786M858 841H871M913 841H922M966 841H984M1032 841H1041"/>
<path class="tm" d="M753 840h16v10h-16zM786 840h16v10h-16zM842 840h16v10h-16zM871 840h16v10h-16zM897 840h16v10h-16zM922 840h16v10h-16zM950 840h16v10h-16zM984 840h16v10h-16zM1016 840h16v10h-16zM1041 840h16v10h-16zM1065 840h16v10h-16zM1081 840h16v10h-16z"/>
<rect class="fr" x="733" y="823" width="580" height="234"/>
<path class="tk" d="M735 1057v-5M806 1057v-5M879 1057v-5M952 1057v-5M1025 1057v-5M1098 1057v-5M1171 1057v-5M1244 1057v-5M735 823v5M806 823v5M879 823v5M952 823v5M1025 823v5M1098 823v5M1171 823v5M1244 823v5M733 823h5M733 862h5M733 901h5M733 940h5M733 979h5M733 1018h5M1313 823h-5M1313 862h-5M1313 901h-5M1313 940h-5M1313 979h-5M1313 1018h-5"/>
<text class="ax axe" x="722" y="827">1.2</text>
<text class="ax axe" x="722" y="866">1</text>
<text class="ax axe" x="722" y="905">0.8</text>
<text class="ax axe" x="722" y="944">0.6</text>
<text class="ax axe" x="722" y="983">0.4</text>
<text class="ax axe" x="722" y="1022">0.2</text>
<text class="ax axe" x="722" y="1061">0</text>
<text class="ax axm" x="735" y="1079">0</text>
<text class="ax axm" x="806" y="1079">100</text>
<text class="ax axm" x="879" y="1079">200</text>
<text class="ax axm" x="952" y="1079">300</text>
<text class="ax axm" x="1025" y="1079">400</text>
<text class="ax axm" x="1098" y="1079">500</text>
<text class="ax axm" x="1171" y="1079">600</text>
<text class="ax axm" x="1244" y="1079">700</text>
<text class="ax axm" transform="translate(680 940) rotate(-90)">probability</text>
<text class="ax axm" x="836" y="1108">transmembrane</text>
<path d="M893 1104H931" stroke="#f00" stroke-width="1"/>
<text class="ax axm" x="1030" y="1108">inside</text>
<path d="M1058 1104H1096" stroke="#00f" stroke-width="1"/>
<text class="ax axm" x="1192" y="1108">outside</text>
<path d="M1224 1104H1262" stroke="#f0f" stroke-width="1"/>
</g>
</svg>
